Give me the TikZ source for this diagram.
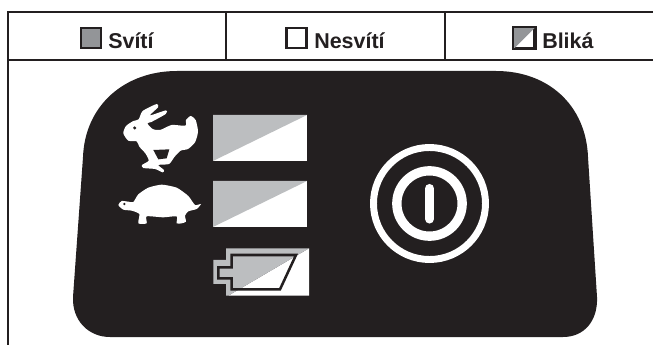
\documentclass[tikz,border=0pt]{standalone}
\usepackage{xcolor}
\usepackage{fontspec}
\setmainfont{Liberation Sans}
\definecolor{panelDark}{HTML}{231F20}
\definecolor{ledGrey}{HTML}{BCBEC0}
\definecolor{keyGrey}{HTML}{939598}

\begin{document}
\begin{tikzpicture}[
  x=0.75pt, y=-0.75pt,
  every node/.style={font=\fontsize{16.1}{18}\selectfont\bfseries, text=panelDark, inner sep=0pt},
  keybox/.style={
    rectangle, minimum size=15pt,
    draw=panelDark, line width=1.9pt,
    fill=#1
  },
  rule/.style={draw=panelDark, line width=1.2pt},
  icon/.style={fill=white, draw=none},
]
\useasboundingbox (0,0) rectangle (653,345);

% === TABLE ===
\draw[rule] (653,12) -- (8,12) -- (8,345);
\draw[rule, line width=1.5pt] (8,60) -- (653,60);
\draw[rule, line width=0.9pt] (226,12) -- (226,60);
\draw[rule, line width=0.9pt] (445,12) -- (445,60);

% === KEY ===
\node[keybox=keyGrey] (key-on) at (91,38) {};
\node[anchor=base west] (lab-on) at (108,49) {Svítí};

\node[keybox=white] (key-off) at (296.7,38) {};
\node[anchor=base west] (lab-off) at (314,49) {Nesvítí};

\node[keybox=white] (key-blink) at (524.5,38) {};
\fill[keyGrey] (key-blink.north west) -- (key-blink.north east) -- (key-blink.south west) -- cycle;
\draw[panelDark, line width=1.7pt] (key-blink.north west) rectangle (key-blink.south east);
\node[anchor=base west] (lab-blink) at (542,49) {Bliká};

% === PANEL ===
\fill[panelDark] (83,157) .. controls (85,105) and (125,71) .. (177,71) -- (496,71)
  .. controls (548,71) and (586,105) .. (588,157) -- (597,297)
  .. controls (598,320) and (585,337) .. (563,337) -- (110,337)
  .. controls (88,337) and (72,320) .. (73,297) -- cycle;

% === SPEED LEDS ===
\foreach \y in {115,181} {
  \fill[white] (213,\y) rectangle (307,\y+46);
  \fill[ledGrey] (213,\y) -- (307,\y) -- (213,\y+46) -- cycle;
}

% === RABBIT ===
\begin{scope}[shift={(100,70)}, x=0.25pt, y=-0.25pt]
  \fill[icon] plot[smooth cycle, tension=0.4] coordinates {
    (70,190) (78,168) (100,153) (116,148) (128,123) (170,102) (174,112) (150,136)
    (198,121) (197,132) (154,156) (142,160) (158,177) (180,180) (215,165) (256,167)
    (258,150) (272,138) (287,150) (294,185) (285,217) (264,237) (242,242) (224,260)
    (207,282) (175,285) (192,300) (188,307) (165,297) (130,294) (126,285) (146,272)
    (136,250) (118,230) (110,214) (85,212)};
  \fill[panelDark] (160,240) -- (208,238) -- (200,265) -- (175,268) -- cycle;
  \fill[panelDark] (104,174) circle[radius=5];
\end{scope}

% === TURTLE ===
\begin{scope}[shift={(0,60)}, x=0.25pt, y=-0.25pt]
  \fill[icon] plot[smooth cycle, tension=0.35] coordinates {
    (355,435) (365,423) (385,425) (400,426) (415,403) (445,383) (485,374) (530,383)
    (565,408) (585,435) (603,432) (590,447) (565,454) (555,467) (558,485) (545,490)
    (530,490) (530,469) (490,472) (440,469) (440,490) (415,490) (418,462) (395,452)
    (370,449)};
  \fill[panelDark] (373,432) circle[radius=4];
\end{scope}

% === BATTERY ===
\begin{scope}[shift={(190,230)}, x=0.25pt, y=-0.25pt]
  \fill[white] (357,55) -- (357,197) -- (115,197) -- cycle;
  \fill[ledGrey] (70,90) -- (108,90) -- (108,55) -- (357,55) -- (115,197) -- (108,197)
    -- (108,162) -- (70,162) -- cycle;
  \draw[panelDark, line width=1.9pt] (125,75) -- (318,75) -- (270,178) -- (125,178)
    -- (125,145) -- (85,145) -- (85,112) -- (125,112) -- cycle;
\end{scope}

% === POWER BUTTON ===
\node[circle, draw=white, line width=5.2pt, minimum size=84pt] (pw-outer) at (429.5,203.5) {};
\node[circle, draw=white, line width=7pt, minimum size=49pt] (pw-inner) at (429.5,203.5) {};
\draw[white, line width=6.8pt, line cap=round] (429.5,188.5) -- (429.5,219);

\end{tikzpicture}
\end{document}
